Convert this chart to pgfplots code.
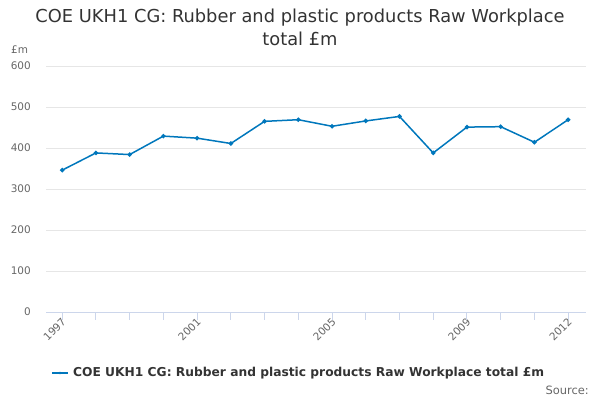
\documentclass[border=0pt]{standalone}
\usepackage{pgfplots}
\pgfplotsset{compat=1.18}
\usepackage{fontspec}
\setmainfont{DejaVu Sans}
\definecolor{serie}{RGB}{0,119,188}
\definecolor{gridc}{RGB}{230,230,230}
\definecolor{axisc}{RGB}{204,214,235}
\definecolor{labc}{RGB}{102,102,102}
\definecolor{titc}{RGB}{51,51,51}
\begin{document}
\begin{tikzpicture}[x=1bp,y=1bp]
\useasboundingbox (0,0) rectangle (600,400);
\begin{axis}[
  at={(46bp,88bp)}, anchor=south west,
  scale only axis, width=540bp, height=246bp,
  xmin=1996.52, xmax=2012.53,
  ymin=0, ymax=600,
  xtick={1997,2001,2005,2009,2012},
  xticklabels={1997,2001,2005,2009,2012},
  ytick={0,100,...,600},
  yticklabels={},
  ymajorgrids, grid style={gridc, line width=0.75bp},
  axis line style={draw=none},
  xtick pos=lower, ytick pos=left,
  xtick style={draw=none}, ytick style={draw=none},
  major tick length=0pt,
  x tick label style={rotate=45, anchor=east, font=\fontsize{10.5}{12}\selectfont, text=labc, yshift=-7bp, xshift=-1bp},
  /pgf/number format/assume math mode=true,
  clip=false,
  after end axis/.code={
    \draw[axisc, line width=0.75bp] (axis cs:1996.52,0) -- (axis cs:2012.53,0);
    \pgfplotsinvokeforeach{1997,1998,1999,2000,2001,2002,2003,2004,2005,2006,2007,2008,2009,2010,2011,2012}{
      \draw[axisc, line width=0.9bp] (axis cs:##1,0) -- ++(0,-8bp);
    }
  },
]
\addplot[serie, line width=1.5bp, mark=*, mark size=1.4bp, mark options={fill=serie, draw=serie}] coordinates {
(1997,346) (1998,388) (1999,384) (2000,429) (2001,424) (2002,411)
(2003,465) (2004,469) (2005,453) (2006,466) (2007,477) (2008,388)
(2009,451) (2010,452) (2011,414) (2012,469)
};
\end{axis}
\foreach \v/\yy in {0/88,100/129,200/170,300/211,400/252,500/293,600/334}
  \node[anchor=east, text=labc, font=\fontsize{10.5}{12}\selectfont, inner sep=0pt] at (31,\yy) {\v};
\node[anchor=west, text=labc, font=\fontsize{10.5}{12}\selectfont, inner sep=0pt] at (11,350) {£m};
\node[text=titc, font=\fontsize{17.9}{21}\selectfont, align=center, inner sep=0pt] at (300,382) {COE UKH1 CG: Rubber and plastic products Raw Workplace};
\node[text=titc, font=\fontsize{17.9}{21}\selectfont, align=center, inner sep=0pt] at (300,361) {total £m};
\draw[serie, line width=1.5bp] (52,27) -- (68,27);
\fill[serie] (60,27) circle (1.4);
\node[anchor=west, text=titc, font=\bfseries\fontsize{12.3}{14}\selectfont, inner sep=0pt] at (73,27) {COE UKH1 CG: Rubber and plastic products Raw Workplace total £m};
\node[anchor=east, text=labc, font=\fontsize{11.5}{13}\selectfont, inner sep=0pt] at (589,10) {Source:};
\end{tikzpicture}
\end{document}
